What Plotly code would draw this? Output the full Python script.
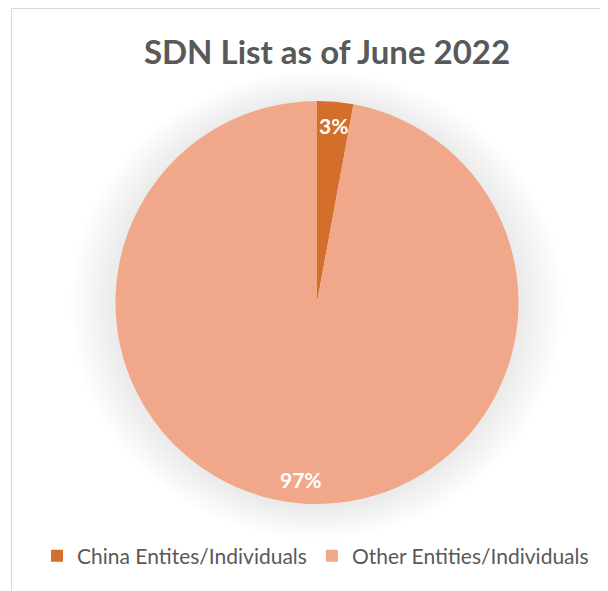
import numpy as np
import plotly.graph_objects as go

# ---- data ----
labels = ["China Entites/Individuals", "Other Entities/Individuals"]
values = [2.9, 97.1]
colors = ["#D46F2B", "#F1A88A"]
title_text = "SDN List as of June 2022"

# page has an 8px body margin: the figure occupies screen px 8..608 / 8..591
OX, OY = 8, 8
W, H = 600, 583
FONT = "Lato"
TXT = "#595959"

def px(x):
    return (x - OX) / W

def py(y):
    return 1 - (y - OY) / H

# pie geometry (screen pixels)
cx, cy, R = 317, 302.5, 201.5

fig = go.Figure()
fig.add_trace(go.Pie(
    labels=labels,
    values=values,
    marker=dict(colors=colors, line=dict(width=0)),
    sort=False,
    direction="clockwise",
    rotation=0,
    textinfo="none",
    hoverinfo="label+percent",
    domain=dict(x=[px(cx - R), px(cx + R)], y=[py(cy + R), py(cy - R)]),
    showlegend=True,
))

# percentage labels placed along each slice's mid-angle
vals = np.array(values, dtype=float)
frac = vals / vals.sum()
ends = np.cumsum(frac)
starts = ends - frac
mids = (starts + ends) / 2 * 2 * np.pi
annotations = []
for f, th in zip(frac, mids):
    r = 0.88 * R
    x = cx + r * np.sin(th)
    y = cy - r * np.cos(th)
    annotations.append(dict(
        x=px(x), y=py(y), xref="paper", yref="paper",
        text=f"<b>{round(f * 100)}%</b>", showarrow=False,
        font=dict(family=FONT, size=21, color="white"),
        xanchor="center", yanchor="middle",
    ))

# soft shadow behind the pie
shapes = []
n = 20
for i in range(n):
    t = (i + 1) / n
    rx = R + 1 + t * 45
    ry = R + 1 + t * 32
    shapes.append(dict(
        type="circle", xref="paper", yref="paper", layer="below",
        x0=px(cx - rx), x1=px(cx + rx), y0=py(cy + 2 + ry), y1=py(cy + 2 - ry),
        fillcolor="rgba(0,0,0,0.0058)", line=dict(width=0),
    ))
# chart border
shapes.append(dict(
    type="rect", xref="paper", yref="paper", layer="below",
    x0=px(11.5), x1=px(W + 40), y0=py(H + 40), y1=py(8.5),
    line=dict(color="#D9D9D9", width=1), fillcolor="rgba(0,0,0,0)",
))

fig.update_layout(
    width=W, height=H,
    margin=dict(l=0, r=0, t=0, b=0),
    paper_bgcolor="white",
    plot_bgcolor="white",
    title=dict(
        text=f"<b>{title_text}</b>",
        x=px(327), xanchor="center",
        y=py(52), yanchor="middle",
        font=dict(family=FONT, size=33, color=TXT),
    ),
    legend=dict(
        orientation="h",
        x=px(37), xanchor="left",
        y=py(556), yanchor="middle",
        font=dict(family=FONT, size=21, color=TXT),
        itemclick=False, itemdoubleclick=False,
        bgcolor="rgba(0,0,0,0)",
    ),
    annotations=annotations,
    shapes=shapes,
)

fig.write_html("out.html")
